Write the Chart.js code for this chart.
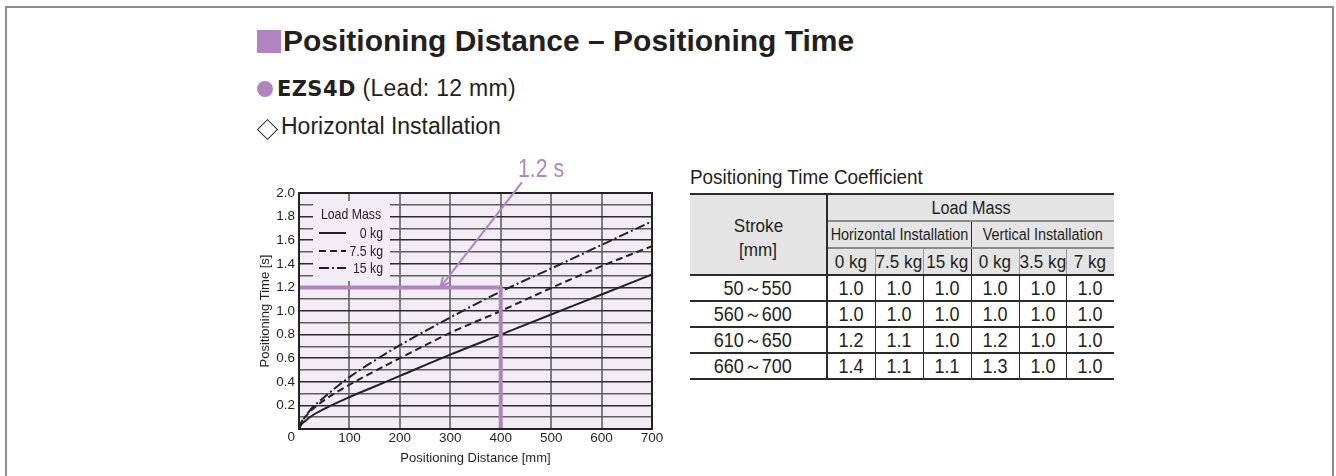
<!DOCTYPE html>
<html>
<head>
<meta charset="utf-8">
<script src="https://cdn.jsdelivr.net/npm/chart.js@4.4.1/dist/chart.umd.min.js"></script>
<style>
  body { margin: 0; width: 1336px; height: 476px; overflow: hidden; position: relative; background: #fff;
         font-family: "Liberation Sans", Arial, sans-serif; color: #231f20; }
  .frame { position: absolute; left: 5px; top: 6px; width: 1325px; height: 490px; border: 2px solid #8c8c8c; border-bottom: none; }
  .sq { position: absolute; left: 257px; top: 30px; width: 24px; height: 23px; background: #b283c1; }
  .title { position: absolute; left: 283px; top: 26px; font-size: 30px; line-height: 30px; font-weight: bold; white-space: nowrap; }
  .dot { position: absolute; left: 257px; top: 81px; width: 16px; height: 16px; border-radius: 50%; background: #b283c1; }
  .sub { position: absolute; left: 277px; top: 77px; font-size: 23px; line-height: 23px; white-space: nowrap; letter-spacing: 0.3px; }
  .sub b { font-family: "DejaVu Sans", sans-serif; font-weight: bold; font-size: 21px; letter-spacing: 0.4px; }
  .dia { position: absolute; left: 260px; top: 122px; width: 13px; height: 13px; border: 1.5px solid #231f20; transform: rotate(45deg); }
  .inst { position: absolute; left: 281px; top: 115px; font-size: 23px; line-height: 23px; white-space: nowrap; }
  .chartbox { position: absolute; left: 250px; top: 145px; width: 420px; height: 325px; }
  .n { display: inline-block; white-space: nowrap; transform: scaleX(0.9); }
  .ttitle { position: absolute; left: 690px; top: 166px; font-size: 21px; line-height: 21px; white-space: nowrap; }
  .ttitle .n { transform-origin: left center; }
  table { position: absolute; left: 690px; top: 193px; width: 424px; table-layout: fixed; border-collapse: collapse; color: #231f20; }
  td { padding: 0; height: 24px; line-height: 20px; border-bottom: 2px solid #2b2b2b; border-right: 1.5px solid #2b2b2b; font-size: 20px; overflow: visible; }
  td .c { display: flex; justify-content: center; align-items: center; }
  tr.top td { border-top: 2.5px solid #2b2b2b; }
  td.hd { background: #e4e4e4; font-size: 19px; height: 25px; }
  td.lm { font-size: 18px; border-bottom: 2px solid #8a8a8a; }
  td.inst2 { font-size: 16px; border-bottom: 2px solid #8a8a8a; }
  td.kg { border-bottom: 2.5px solid #2b2b2b; border-right: 1.5px solid #999; }
  td.kg.sep { border-right: 1.5px solid #2b2b2b; }
  td.strokeHd { border-right: 2px solid #2b2b2b; border-bottom: 2.5px solid #2b2b2b; font-size: 19px; }
  td.strokeHd .c { flex-direction: column; line-height: 24px; padding-top: 6px; }
  td.stroke { border-right: 2px solid #2b2b2b; }
  td.stroke .c { justify-content: flex-end; padding-right: 34px; }
  td.stroke .n { transform-origin: right center; }
  td.last { border-right: none; }
</style>
</head>
<body>
<div class="frame"></div>
<div class="sq"></div>
<div class="title">Positioning Distance – Positioning Time</div>
<div class="dot"></div>
<div class="sub"><b>EZS4D</b> (Lead: 12 mm)</div>
<div class="dia"></div>
<div class="inst">Horizontal Installation</div>

<div class="chartbox"><canvas id="chart" width="420" height="325"></canvas></div>

<div class="ttitle"><span class="n">Positioning Time Coefficient</span></div>
<table id="coef">
  <colgroup>
    <col style="width:137px"><col style="width:48px"><col style="width:48px"><col style="width:48px">
    <col style="width:48px"><col style="width:47px"><col style="width:48px">
  </colgroup>
  <tbody id="coefBody"></tbody>
</table>

<script>
// distances [mm] and positioning times [s]
const distances = [0, 5, 10, 25, 50, 100, 150, 200, 300, 400, 500, 600, 700];
const time0kg   = [0, 0.04, 0.06, 0.11, 0.17, 0.27, 0.36, 0.45, 0.63, 0.80, 0.97, 1.14, 1.31];
const time7kg   = [0, 0.06, 0.09, 0.16, 0.245, 0.375, 0.49, 0.60, 0.815, 1.00, 1.195, 1.38, 1.55];
const time15kg  = [0, 0.06, 0.09, 0.175, 0.27, 0.44, 0.58, 0.71, 0.945, 1.165, 1.36, 1.56, 1.76];
const seriesLabels = ['0 kg', '7.5 kg', '15 kg'];

// example reading: 400 mm -> 1.2 s
const guideX = [0, 400, 400];
const guideY = [1.2, 1.2, 0];
const guideText = '1.2 s';
const arrowTail = { x: 442, y: 2.09 };
const arrowTip = { x: 280, y: 1.2 };

// coefficient table
const strokeRanges = ['50～550', '560～600', '610～650', '660～700'];
const massHeads = ['0 kg', '7.5 kg', '15 kg', '0 kg', '3.5 kg', '7 kg'];
const coefRows = [
    ['1.0', '1.0', '1.0', '1.0', '1.0', '1.0'],
    ['1.0', '1.0', '1.0', '1.0', '1.0', '1.0'],
    ['1.2', '1.1', '1.0', '1.2', '1.0', '1.0'],
    ['1.4', '1.1', '1.1', '1.3', '1.0', '1.0']
];

const FONT = '"Liberation Sans", Arial, sans-serif';
const INK = '#231f20';
const PURPLE = '#b283c1';

// build table
const cell = (txt, cls, extra) => `<td class="${cls}"${extra || ''}><div class="c"><span class="n">${txt}</span></div></td>`;
let html = '<tr class="top"><td class="hd strokeHd" rowspan="3"><div class="c"><span class="n">Stroke</span><span class="n">[mm]</span></div></td>'
    + cell('Load Mass', 'hd lm last', ' colspan="6"') + '</tr><tr>'
    + cell('Horizontal Installation', 'hd inst2', ' colspan="3"')
    + cell('Vertical Installation', 'hd inst2 last', ' colspan="3"') + '</tr><tr>';
massHeads.forEach((m, i) => {
    html += cell(m, 'hd kg' + (i === 2 ? ' sep' : '') + (i === 5 ? ' last' : ''));
});
html += '</tr>';
coefRows.forEach((row, r) => {
    html += '<tr>' + cell(strokeRanges[r], 'stroke');
    row.forEach((v, i) => { html += cell(v, i === 5 ? 'last' : ''); });
    html += '</tr>';
});
document.getElementById('coefBody').innerHTML = html;

const toPoints = (xs, ys) => xs.map((x, i) => ({ x: x, y: ys[i] }));

// condensed text on the canvas
function narrowText(ctx, text, x, y, align) {
    ctx.save();
    ctx.translate(x, y);
    ctx.scale(0.82, 1);
    ctx.textAlign = align;
    ctx.fillText(text, 0, 0);
    ctx.restore();
}

const decor = {
    id: 'decor',
    beforeDraw(chart) {
        const { ctx, chartArea: a } = chart;
        ctx.save();
        ctx.fillStyle = '#f2edf4';
        ctx.fillRect(a.left, a.top, a.right - a.left, a.bottom - a.top);
        ctx.restore();
    },
    beforeDatasetsDraw(chart) {
        // legend box inside the plot
        const { ctx, chartArea: a } = chart;
        ctx.save();
        ctx.fillStyle = '#f2edf4';
        ctx.fillRect(a.left + 14, a.top + 8, 77, 80);
        ctx.fillStyle = INK;
        ctx.font = '15px ' + FONT;
        ctx.textBaseline = 'middle';
        narrowText(ctx, 'Load Mass', a.left + 52, a.top + 22, 'center');
        const rowsY = [40, 58, 75];
        chart.data.datasets.slice(0, 3).forEach((ds, i) => {
            const y = a.top + rowsY[i];
            ctx.strokeStyle = INK;
            ctx.lineWidth = 2;
            ctx.setLineDash(ds.borderDash || []);
            ctx.beginPath();
            ctx.moveTo(a.left + 20, y);
            ctx.lineTo(a.left + 47, y);
            ctx.stroke();
            ctx.setLineDash([]);
            narrowText(ctx, ds.label, a.left + 84, y + 1, 'right');
        });
        ctx.restore();
    },
    afterDatasetsDraw(chart) {
        const { ctx, chartArea: a, scales: { x, y } } = chart;
        ctx.save();
        ctx.strokeStyle = '#222';
        ctx.lineWidth = 2;
        ctx.strokeRect(a.left, a.top, a.right - a.left, a.bottom - a.top);

        ctx.fillStyle = INK;
        ctx.font = '13.5px ' + FONT;
        ctx.textAlign = 'right';
        ctx.textBaseline = 'middle';
        ctx.fillText('0', a.left - 4, a.bottom + 8);

        // arrow pointing at the 1.2 s line
        const tx = x.getPixelForValue(arrowTail.x), ty = y.getPixelForValue(arrowTail.y);
        const hx = x.getPixelForValue(arrowTip.x), hy = y.getPixelForValue(arrowTip.y);
        ctx.strokeStyle = PURPLE;
        ctx.lineWidth = 2;
        ctx.beginPath();
        ctx.moveTo(tx, ty);
        ctx.lineTo(hx, hy);
        const ang = Math.atan2(hy - ty, hx - tx);
        ctx.moveTo(hx - 11 * Math.cos(ang - 0.4), hy - 11 * Math.sin(ang - 0.4));
        ctx.lineTo(hx, hy);
        ctx.lineTo(hx - 11 * Math.cos(ang + 0.4), hy - 11 * Math.sin(ang + 0.4));
        ctx.stroke();

        ctx.fillStyle = PURPLE;
        ctx.font = '26px ' + FONT;
        ctx.textBaseline = 'alphabetic';
        narrowText(ctx, guideText, tx - 4, ty - 5, 'left');
        ctx.restore();
    }
};

const lineStyle = { borderColor: '#222', borderWidth: 2, pointRadius: 0, cubicInterpolationMode: 'monotone', fill: false };

new Chart(document.getElementById('chart'), {
    type: 'line',
    data: {
        datasets: [
            { ...lineStyle, label: seriesLabels[0], data: toPoints(distances, time0kg) },
            { ...lineStyle, label: seriesLabels[1], data: toPoints(distances, time7kg), borderDash: [7, 4] },
            { ...lineStyle, label: seriesLabels[2], data: toPoints(distances, time15kg), borderDash: [10, 3, 2, 3] },
            { label: 'guide', data: toPoints(guideX, guideY), borderColor: PURPLE, borderWidth: 4,
              pointRadius: 0, tension: 0, order: -1 }
        ]
    },
    options: {
        responsive: false,
        animation: false,
        events: [],
        layout: { padding: { left: 0, top: 48, right: 18, bottom: 0 } },
        plugins: { legend: { display: false }, tooltip: { enabled: false } },
        scales: {
            x: {
                type: 'linear', min: 0, max: 700,
                afterFit(s) { s.height = 41; },
                border: { display: false },
                grid: { drawTicks: false, color: '#7d7d7d', lineWidth: 2 },
                ticks: { stepSize: 100, padding: 1, color: INK, font: { family: FONT, size: 13.5 },
                         callback: v => (v === 0 ? '' : v) },
                title: { display: true, text: 'Positioning Distance [mm]', color: INK,
                         font: { family: FONT, size: 13 }, padding: { top: 0, bottom: 4 } }
            },
            y: {
                min: 0, max: 2,
                afterFit(s) { s.width = 49; },
                border: { display: false },
                grid: { drawTicks: false, lineWidth: 1.5,
                        color: c => (Math.round(c.tick.value * 10) % 2 === 0 ? '#2b2b2b' : '#5e5e5e') },
                ticks: { stepSize: 0.1, maxTicksLimit: 30, autoSkip: false, padding: 4, color: INK,
                         font: { family: FONT, size: 13.5 },
                         callback: v => {
                             const k = Math.round(v * 10);
                             return (k > 0 && k % 2 === 0) ? (k / 10).toFixed(1) : '';
                         } },
                title: { display: true, text: 'Positioning Time [s]', color: INK,
                         font: { family: FONT, size: 13 }, padding: { top: 8, bottom: 0 } }
            }
        }
    },
    plugins: [decor]
});
</script>
</body>
</html>
